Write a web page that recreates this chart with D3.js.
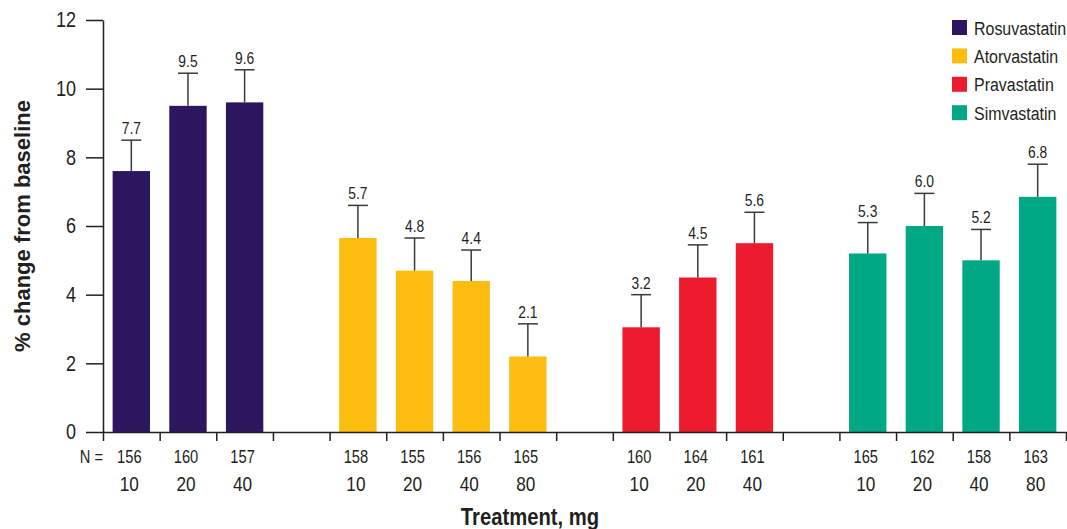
<!DOCTYPE html>
<html lang="en">
  <head>
    <meta charset="utf-8" />
    <title>Statin bar chart</title>
    <script src="https://cdnjs.cloudflare.com/ajax/libs/d3/7.8.5/d3.min.js"></script>
    <style>
      body { margin: 0; background: #fff; }
      text { font-family: "Liberation Sans", Arial, sans-serif; fill: #231f20; }
      .axis path, .axis line { stroke: #231f20; stroke-width: 1.5; }
      .errbar { stroke: #3a3a3a; stroke-width: 1.5; fill: none; }
    </style>
  </head>
  <body>
    <script>
      // chart data
      const drugs = ["Rosuvastatin", "Atorvastatin", "Pravastatin", "Simvastatin"];
      const colors = ["#2c1660", "#fcbd10", "#ec1c2e", "#00a886"];
      const doses = [[10, 20, 40], [10, 20, 40, 80], [10, 20, 40], [10, 20, 40, 80]];
      const nPatients = [[156, 160, 157], [158, 155, 156, 165], [160, 164, 161], [165, 162, 158, 163]];
      const means = [[7.6, 9.5, 9.6], [5.65, 4.7, 4.4, 2.2], [3.05, 4.5, 5.5], [5.2, 6.0, 5.0, 6.85]];
      const upper = [[8.5, 10.45, 10.55], [6.6, 5.65, 5.3, 3.15], [4.0, 5.45, 6.4], [6.1, 6.95, 5.9, 7.8]];
      const labels = [["7.7", "9.5", "9.6"], ["5.7", "4.8", "4.4", "2.1"], ["3.2", "4.5", "5.6"], ["5.3", "6.0", "5.2", "6.8"]];
      const yTicks = [0, 2, 4, 6, 8, 10, 12];

      const width = 1067;
      const height = 529;
      const marginLeft = 103;
      const marginRight = 1;
      const marginTop = 20;
      const axisY = 432;
      const narrow = 0.84; // squeeze text to look like a condensed face

      // flatten into slots, one empty slot between drugs
      const bars = [];
      let slot = 0;
      drugs.forEach((drug, g) => {
        doses[g].forEach((dose, i) => {
          bars.push({
            drug, g, slot, dose,
            n: nPatients[g][i],
            mean: means[g][i],
            hi: upper[g][i],
            label: labels[g][i]
          });
          slot++;
        });
        if (g < drugs.length - 1) slot++;
      });
      const nSlots = slot;

      const x = d3.scaleBand()
        .domain(d3.range(nSlots))
        .range([marginLeft, width - marginRight])
        .paddingInner(0.34)
        .paddingOuter(0.17);
      const xEdge = d3.scaleLinear([0, nSlots], [marginLeft, width - marginRight]);
      const y = d3.scaleLinear([0, 12], [axisY, marginTop]);
      const color = d3.scaleOrdinal(drugs, colors);
      const cx = d => x(d.slot) + x.bandwidth() / 2;
      const at = (px, py) => `translate(${px},${py}) scale(${narrow},1)`;

      const svg = d3.select("body").append("svg")
        .attr("width", width)
        .attr("height", height)
        .attr("viewBox", [0, 0, width, height]);

      // bars
      svg.append("g")
        .selectAll("rect")
        .data(bars)
        .join("rect")
          .attr("x", d => x(d.slot))
          .attr("y", d => y(d.mean))
          .attr("width", x.bandwidth())
          .attr("height", d => y(0) - y(d.mean))
          .attr("fill", d => color(d.drug));

      // error bars (upper only)
      const err = svg.append("g").attr("class", "errbar");
      err.selectAll("line.v")
        .data(bars)
        .join("line")
          .attr("class", "v")
          .attr("x1", cx).attr("x2", cx)
          .attr("y1", d => y(d.mean)).attr("y2", d => y(d.hi));
      err.selectAll("line.cap")
        .data(bars)
        .join("line")
          .attr("class", "cap")
          .attr("x1", d => cx(d) - 10).attr("x2", d => cx(d) + 10)
          .attr("y1", d => y(d.hi)).attr("y2", d => y(d.hi));

      // value labels
      svg.append("g")
        .selectAll("text")
        .data(bars)
        .join("text")
          .attr("transform", d => at(cx(d), y(d.hi) - 6))
          .attr("text-anchor", "middle")
          .attr("font-size", 16.5)
          .text(d => d.label);

      // x axis: ticks at slot edges
      svg.append("g")
        .attr("class", "axis")
        .attr("transform", `translate(0,${axisY})`)
        .call(d3.axisBottom(xEdge).tickValues(d3.range(nSlots + 1)).tickFormat("").tickSize(9).tickSizeOuter(0));

      // y axis
      svg.append("g")
        .attr("class", "axis")
        .attr("transform", `translate(${marginLeft},0)`)
        .call(d3.axisLeft(y).tickValues(yTicks).tickSize(17).tickPadding(10).tickSizeOuter(0))
        .call(g => g.selectAll(".tick text")
          .attr("x", null)
          .attr("transform", at(-27, 0))
          .attr("font-size", 21.5)
          .attr("fill", "#231f20"));

      // N row and dose row
      svg.append("g")
        .selectAll("text")
        .data(bars)
        .join("text")
          .attr("transform", d => at(cx(d) - 2, 463))
          .attr("text-anchor", "middle")
          .attr("font-size", 17.5)
          .text(d => d.n);
      svg.append("text")
        .attr("transform", at(103, 463))
        .attr("text-anchor", "end")
        .attr("font-size", 17.5)
        .text("N =");
      svg.append("g")
        .selectAll("text")
        .data(bars)
        .join("text")
          .attr("transform", d => at(cx(d) - 2, 491))
          .attr("text-anchor", "middle")
          .attr("font-size", 20.5)
          .text(d => d.dose);

      // axis titles
      svg.append("text")
        .attr("transform", `translate(530,525) scale(0.88,1)`)
        .attr("text-anchor", "middle")
        .attr("font-size", 23)
        .attr("font-weight", "bold")
        .text("Treatment, mg");
      svg.append("text")
        .attr("transform", `translate(30,${(marginTop + axisY) / 2}) rotate(-90)`)
        .attr("text-anchor", "middle")
        .attr("font-size", 22)
        .attr("font-weight", "bold")
        .text("% change from baseline");

      // legend
      const legend = svg.append("g")
        .attr("transform", "translate(952,20)")
        .selectAll("g")
        .data(drugs)
        .join("g")
          .attr("transform", (d, i) => `translate(0,${i * 28.4})`);
      legend.append("rect")
        .attr("width", 15)
        .attr("height", 15)
        .attr("fill", d => color(d));
      legend.append("text")
        .attr("transform", at(22, 14.5))
        .attr("font-size", 19)
        .text(d => d);
    </script>
  </body>
</html>
